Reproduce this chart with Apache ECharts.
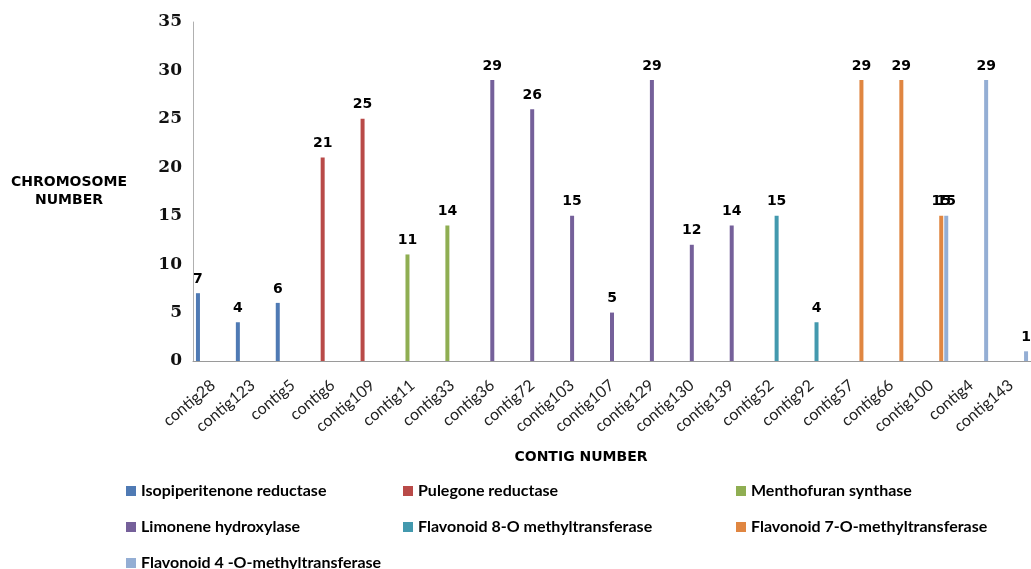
<!DOCTYPE html>
<html>
<head>
<meta charset="utf-8">
<script src="https://cdn.jsdelivr.net/npm/echarts@6/dist/echarts.min.js"></script>
<style>
  html, body { margin: 0; padding: 0; background: #ffffff; }
  #chart { width: 1031px; height: 569px; }
</style>
</head>
<body>
<div id="chart"></div>
<script>
// Contigs along the x axis
const categories = ['contig28', 'contig123', 'contig5', 'contig6', 'contig109', 'contig11', 'contig33',
  'contig36', 'contig72', 'contig103', 'contig107', 'contig129', 'contig130', 'contig139',
  'contig52', 'contig92', 'contig57', 'contig66', 'contig100', 'contig4', 'contig143'];

// Chromosome number per contig, one array per enzyme (null = no bar)
const isopiperitenoneReductase = [7, 4, 6, null, null, null, null, null, null, null, null, null, null, null, null, null, null, null, null, null, null];
const pulegoneReductase        = [null, null, null, 21, 25, null, null, null, null, null, null, null, null, null, null, null, null, null, null, null, null];
const menthofuranSynthase      = [null, null, null, null, null, 11, 14, null, null, null, null, null, null, null, null, null, null, null, null, null, null];
const limoneneHydroxylase      = [null, null, null, null, null, null, null, 29, 26, 15, 5, 29, 12, 14, null, null, null, null, null, null, null];
const flavonoid8OMT            = [null, null, null, null, null, null, null, null, null, null, null, null, null, null, 15, 4, null, null, null, null, null];
const flavonoid7OMT            = [null, null, null, null, null, null, null, null, null, null, null, null, null, null, null, null, 29, 29, 15, null, null];
const flavonoid4OMT            = [null, null, null, null, null, null, null, null, null, null, null, null, null, null, null, null, null, null, 15, 29, 1];

const seriesNames = ['Isopiperitenone reductase', 'Pulegone reductase', 'Menthofuran synthase',
  'Limonene hydroxylase', 'Flavonoid 8-O methyltransferase', 'Flavonoid 7-O-methyltransferase',
  'Flavonoid 4 -O-methyltransferase'];
const seriesData = [isopiperitenoneReductase, pulegoneReductase, menthofuranSynthase,
  limoneneHydroxylase, flavonoid8OMT, flavonoid7OMT, flavonoid4OMT];
const colors = ['#4f7ab4', '#b94a48', '#8fae52', '#75609a', '#4399ae', '#e08641', '#94aed4'];

const yTicks = { min: 0, max: 35, interval: 5 };

const chart = echarts.init(document.getElementById('chart'), null, { renderer: 'canvas' });

// Legend laid out as a 3-column grid: one legend component per entry
const legendText = { fontFamily: "Lato, 'Open Sans', sans-serif", fontWeight: 'bold', fontSize: 16, color: '#000' };
const legendCols = [126, 403, 736];
const legendRows = [483, 519, 555];
const legends = seriesNames.map((name, i) => ({
  left: legendCols[i % 3],
  top: legendRows[Math.floor(i / 3)],
  padding: 0,
  itemWidth: 10, itemHeight: 10, icon: 'rect',
  textStyle: legendText,
  data: [name],
  selectedMode: false
}));

chart.setOption({
  animation: false,
  color: colors,
  grid: { left: 193, right: 0, top: 22, bottom: 208 },
  legend: legends,
  xAxis: {
    type: 'category',
    data: categories,
    name: 'CONTIG NUMBER',
    nameLocation: 'middle',
    nameGap: 89,
    nameTextStyle: { fontFamily: "'DejaVu Sans', sans-serif", fontWeight: 'bold', fontSize: 14, color: '#000', padding: [0, 62, 0, 0] },
    axisLine: { lineStyle: { color: '#9a9a9a', width: 1 } },
    axisTick: { show: false },
    axisLabel: {
      rotate: 40, interval: 0, margin: 22,
      fontFamily: "Lato, 'Open Sans', sans-serif", fontSize: 16, color: '#222'
    }
  },
  yAxis: {
    type: 'value',
    min: yTicks.min, max: yTicks.max, interval: yTicks.interval,
    name: 'CHROMOSOME\nNUMBER',
    nameLocation: 'middle',
    nameRotate: 0,
    nameGap: 124,
    nameTextStyle: { fontFamily: "'DejaVu Sans', sans-serif", fontWeight: 'bold', fontSize: 14, color: '#000', align: 'center', lineHeight: 18 },
    splitLine: { show: false },
    axisLine: { show: true, lineStyle: { color: '#b0b0b0', width: 1 } },
    axisTick: { show: false },
    axisLabel: {
      margin: 11,
      fontFamily: "'DejaVu Serif', serif", fontWeight: 'bold', fontSize: 17, color: '#111'
    }
  },
  series: seriesNames.map((name, i) => ({
    name: name,
    type: 'bar',
    data: seriesData[i],
    barWidth: 4,
    barGap: '25%',
    label: {
      show: true, position: 'top', distance: 7,
      fontFamily: "'DejaVu Sans', sans-serif", fontWeight: 'bold', fontSize: 14, color: '#000'
    }
  }))
});
</script>
</body>
</html>
